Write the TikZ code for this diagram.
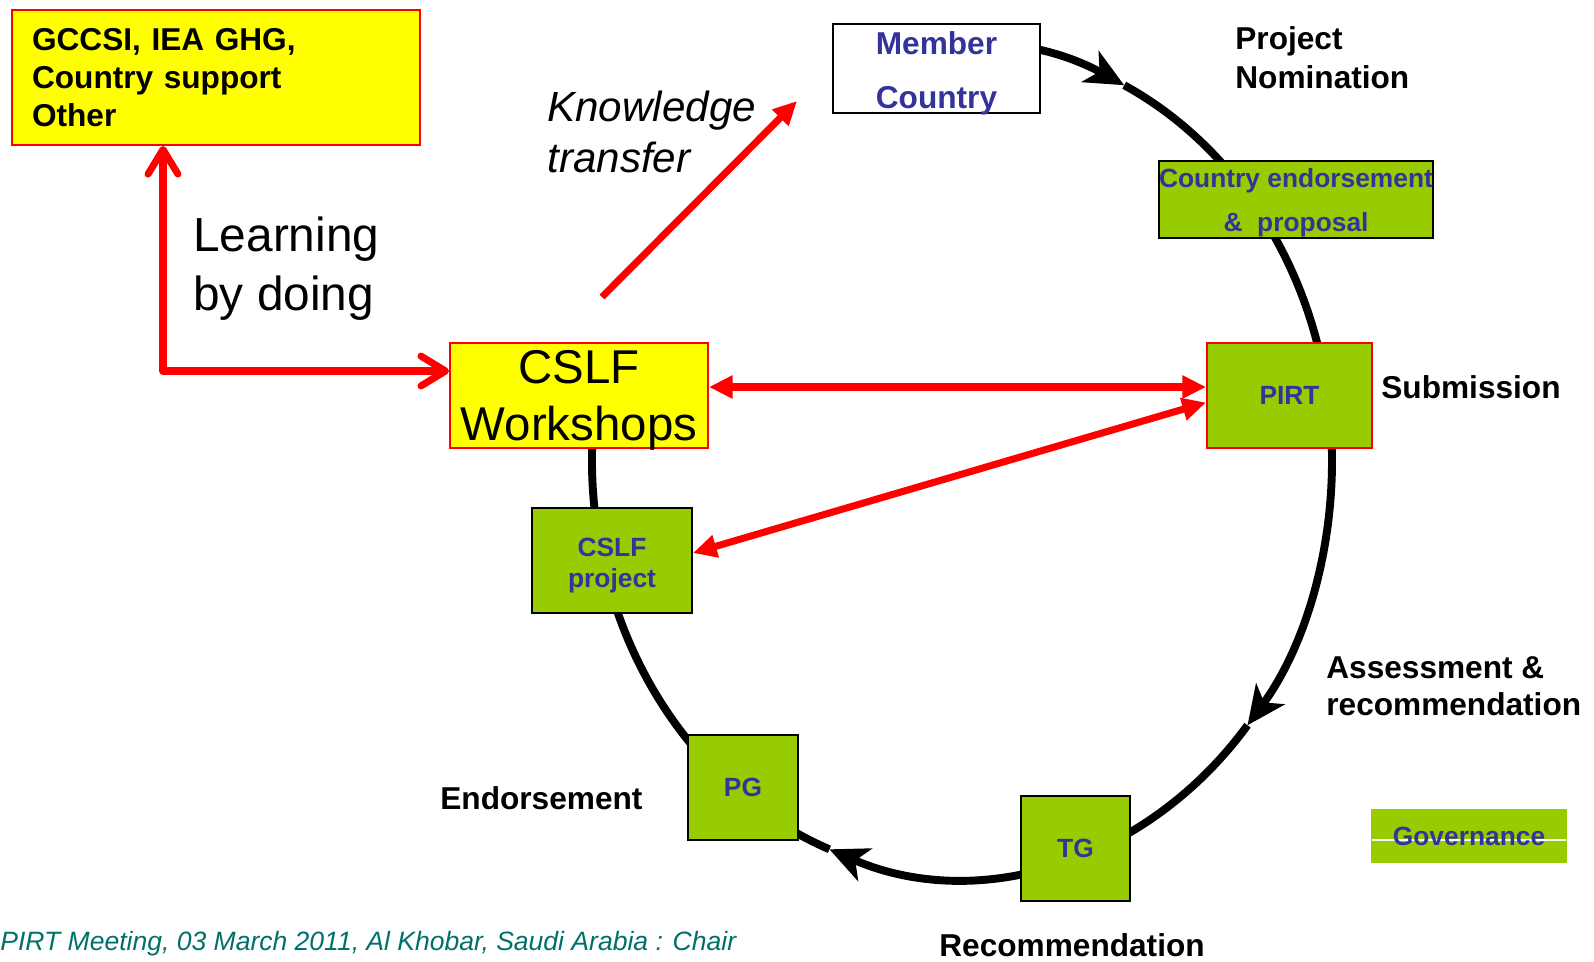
\documentclass[tikz,border=0pt]{standalone}
\usepackage{fontspec}
\setmainfont{Liberation Sans}
\usetikzlibrary{arrows.meta,calc}
\definecolor{boxyellow}{RGB}{255,255,0}
\definecolor{boxgreen}{RGB}{153,204,0}
\definecolor{boxblue}{RGB}{51,51,153}
\definecolor{footteal}{RGB}{0,112,105}
\newcommand{\setfs}[2]{\fontsize{#1}{#2}\selectfont}

\begin{document}
\begin{tikzpicture}[x=0.02cm, y=-0.02cm,
    boxsize/.style 2 args={minimum width={#1*0.02cm}, minimum height={#2*0.02cm}},
    greenbox/.style={draw=black, line width=1.1pt, fill=boxgreen, inner sep=0pt, align=center, text=boxblue, font=\bfseries\setfs{15pt}{18pt}},
    yellowbox/.style={draw=red, line width=1.1pt, fill=boxyellow, inner sep=0pt},
    boxtext/.style={inner sep=0pt, align=center, text=boxblue},
    steplabel/.style={anchor=west, inner sep=0pt, align=left, font=\bfseries\setfs{18pt}{22pt}},
    cycleline/.style={line width=4.5pt, -{Stealth[length=22pt, width=20pt, inset=6pt]}},
    redline/.style={red, line width=4pt},
    redtip/.style={redline, {Triangle[length=13.5pt, width=12.5pt]}-{Triangle[length=13.5pt, width=12.5pt]}}]
		\useasboundingbox (0,0) rectangle (1594,961);
		\coordinate (cyc) at (962,460);
		\foreach \a/\b in {-110/-64, -64/39.5, 39.5/111}
			\draw[cycleline] ($(cyc)+(\a:370 and 417)$) arc[start angle=\a, end angle=\b, x radius=370, y radius=417];
		\draw[cycleline, -] ($(cyc)+(111:370 and 417)$) arc[start angle=111, end angle=196.3, x radius=370, y radius=417];

		\node[yellowbox, boxsize={408}{135}, text width=7.36cm, inner xsep=0.4cm, align=left, font=\bfseries\setfs{18pt}{21.8pt}] (gccsi) at (216,77.5) {GCCSI, IEA GHG,\\Country support\\Other};
		\node[anchor=west, inner sep=0pt, align=left, font=\setfs{27.2pt}{33.5pt}] (learn) at (193,268.5) {Learning\\by doing};
		\node[anchor=west, inner sep=0pt, align=left, font=\itshape\setfs{24pt}{29pt}] (know) at (547,132) {Knowledge\\transfer};
		\node[yellowbox, boxsize={258}{105}] (wshop) at (579,395.5) {};
		\node[boxtext, text=black, font=\setfs{27pt}{32.3pt}] (wshoptext) at ($(wshop)+(0,5)$) {CSLF\\Workshops};
		\node[greenbox, fill=white, boxsize={207}{89}] (member) at (936.5,68.5) {};
		\node[boxtext, font=\bfseries\setfs{18pt}{30.6pt}] (membertext) at ($(member)+(0,5)$) {Member\\Country};
		\node[greenbox, boxsize={274}{77}] (endorse) at (1296,199.5) {};
		\node[boxtext, font=\bfseries\setfs{15pt}{25pt}] (endorsetext) at ($(endorse)+(0,3)$) {Country endorsement\\\&\ \ proposal};
		\node[greenbox, draw=red, boxsize={165}{105}] (pirt) at (1289.5,395.5) {PIRT};
		\node[greenbox, boxsize={160}{105}] (proj) at (612,560.5) {};
		\node[boxtext, font=\bfseries\setfs{15pt}{18pt}] (projtext) at ($(proj)+(0,5)$) {CSLF\\project};
		\node[greenbox, boxsize={110}{105}] (pg) at (743,787.5) {PG};
		\node[greenbox, boxsize={109}{105}] (tg) at (1075.5,848.5) {TG};
		\node[greenbox, draw=none, boxsize={196}{54}] (gov) at (1469,836) {};
		\draw[white, line width=1pt] ($(gov.west)+(2,4)$) -- ($(gov.east)+(-2,4)$);
		\node[greenbox, draw=none, fill=none] (govtext) at (gov) {Governance};

		\node[steplabel] (nomin) at (1235,58) {Project\\Nomination};
		\node[steplabel] (submit) at (1381,387) {Submission};
		\node[steplabel, font=\bfseries\setfs{18pt}{21.3pt}] (assess) at (1326,686) {Assessment \&\\recommendation};
		\node[steplabel] (endors) at (440,798) {Endorsement};
		\node[steplabel] (recomm) at (939,945) {Recommendation};
		\node[anchor=west, inner sep=0pt, text=footteal, font=\itshape\setfs{15.1pt}{18pt}] (footer) at (0,944) {PIRT Meeting, 03 March 2011, Al Khobar, Saudi Arabia : Chair};

		\coordinate (lcorner) at (163,371);
		\draw[redline, line join=round, {Straight Barb[round, length=14pt, width=17pt]}-{Straight Barb[round, length=14pt, width=17pt]}] (gccsi.south -| lcorner) -- (lcorner) -- (wshop.west |- lcorner);
		\coordinate (ktfrom) at (602,297);
		\coordinate (ktto) at (797,101);
		\draw[redline, -{Triangle[length=13.5pt, width=12.5pt]}] (ktfrom) -- (ktto);
		\draw[redtip] ($(wshop.east)+(0,-8.5)$) -- ($(pirt.west)+(0,-8.5)$);
		\draw[redtip] ($(pirt.west)+(0,7)$) -- ($(proj.east)+(0,-7.5)$);
\end{tikzpicture}
\end{document}
